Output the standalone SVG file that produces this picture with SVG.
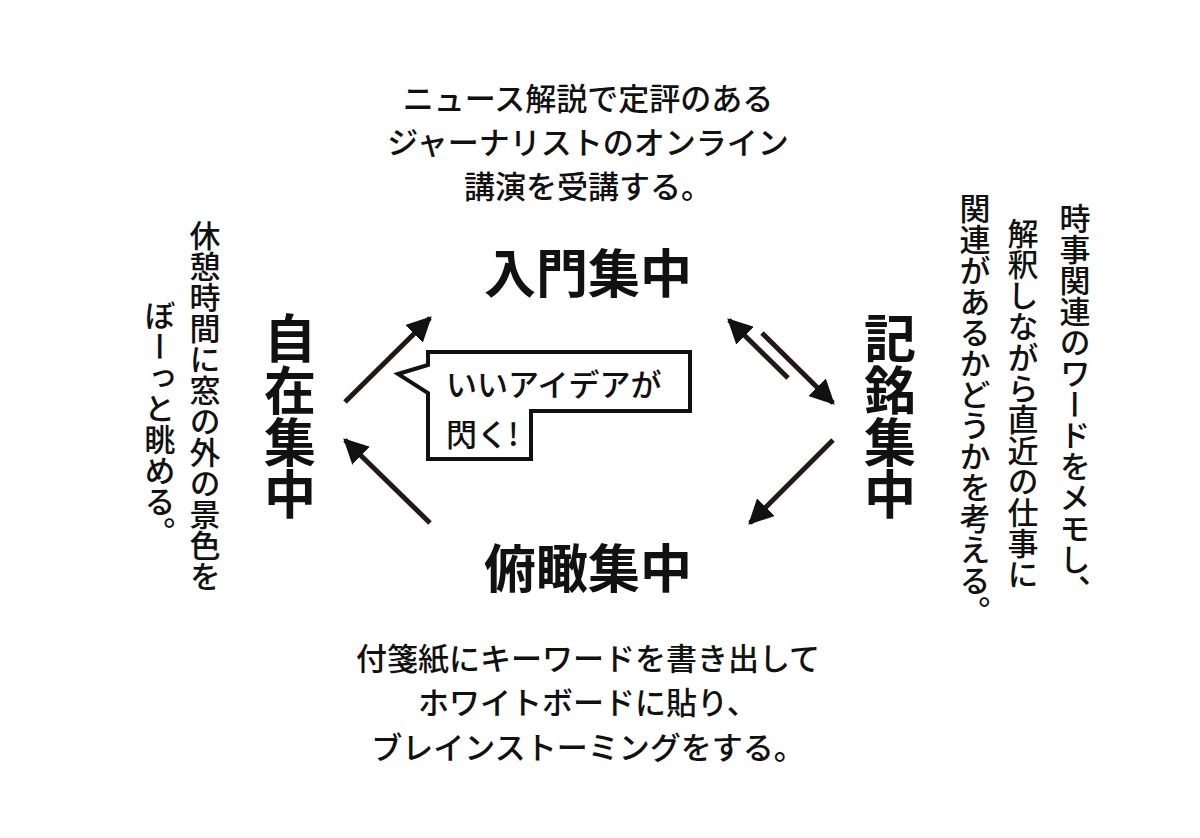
<svg xmlns="http://www.w3.org/2000/svg" width="1200" height="838" viewBox="0 0 1200 838">
<style>
.t{font-family:"Noto Sans CJK JP",sans-serif;font-size:31px;font-weight:500;fill:#111}
.h{font-family:"Noto Sans CJK JP",sans-serif;font-size:52px;font-weight:700;fill:#111}
.v{writing-mode:vertical-rl}
.c{stroke:#231815;stroke-width:5;fill:none}
</style>
<defs><marker id="a" viewBox="0 0 10 10" refX="9" refY="5" markerWidth="5" markerHeight="5" orient="auto" markerUnits="strokeWidth"><path d="M0,0L10,5L0,10z" fill="#111"/></marker></defs>
<rect width="1200" height="838" fill="#fff"/>
<g id="top" class="t" text-anchor="middle">
<text x="588" y="110">ニュース解説で定評のある</text>
<text x="588" y="154">ジャーナリストのオンライン</text>
<text x="588" y="198">講演を受講する。</text>
</g>
<g id="bottom" class="t" text-anchor="middle">
<text x="588" y="670">付箋紙にキーワードを書き出して</text>
<text x="588" y="714">ホワイトボードに貼り、</text>
<text x="588" y="759">ブレインストーミングをする。</text>
</g>
<g id="left" class="t v">
<text x="205" y="220">休憩時間に窓の外の景色を</text>
<text x="160" y="300">ぼーっと眺める。</text>
</g>
<g id="right" class="t v">
<text x="1075" y="203">時事関連のワードをメモし、</text>
<text x="1023" y="218">解釈しながら直近の仕事に</text>
<text x="975" y="193">関連があるかどうかを考える。</text>
</g>
<g id="n1"><text class="h" x="588" y="293" text-anchor="middle">入門集中</text></g>
<g id="n2"><text class="h" x="588" y="588" text-anchor="middle">俯瞰集中</text></g>
<g id="n3"><text class="h v" x="290" y="312">自在集中</text></g>
<g id="n4"><text class="h v" x="890" y="312">記銘集中</text></g>
<g id="bubble">
<path d="M428,352H690V411H531V459H428V393L398,374L428,365Z" fill="#fff" stroke="#111" stroke-width="4"/>
<text class="t" x="446" y="396">いいアイデアが</text>
<text class="t" x="446" y="446">閃く!</text>
</g>
<g id="connectors" class="c">
<path d="M345,402L430,318" marker-end="url(#a)"/>
<path d="M430,523L345,440" marker-end="url(#a)"/>
<path d="M788,378L729,320" marker-end="url(#a)"/>
<path d="M762,333L833,403" marker-end="url(#a)"/>
<path d="M833,440L750,523" marker-end="url(#a)"/>
</g>
</svg>
